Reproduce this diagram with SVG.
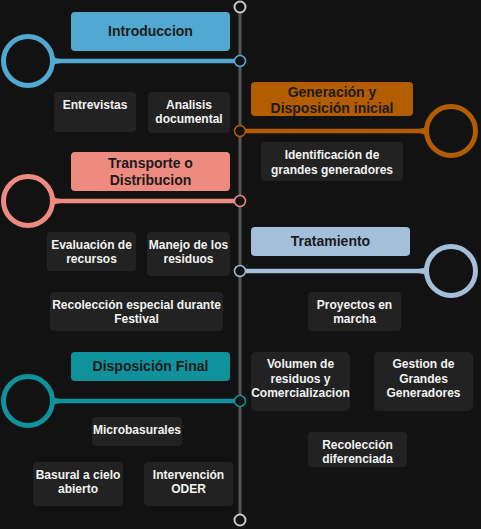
<svg xmlns="http://www.w3.org/2000/svg" width="481" height="529" viewBox="0 0 481 529">
  <style>
    .title { font-family: "Liberation Sans", Arial, sans-serif; font-size: 14px; font-weight: bold; fill: #1b1b1b; text-anchor: middle; }
    .item { font-family: "Liberation Sans", Arial, sans-serif; font-size: 12px; font-weight: bold; fill: #f2f2f2; text-anchor: middle; }
    .card { fill: #222222; }
    .ring { fill: none; stroke-width: 5; }
    .arm { fill: none; stroke-width: 4.5; }
    .dot { fill: #121212; stroke-width: 1.5; }
    .flare { stroke: none; }
  </style>
  <defs>
    <!-- small fillet where an arm meets its ring (drawn for a ring on the left, origin at ring centre) -->
    <path id="flare" d="M24.2,-6 Q26,-2.25 32,-2.25 L32,2.25 Q26,2.25 24.2,6 Z"/>
  </defs>
  <rect width="481" height="529" fill="#121212"/>

  <!-- timeline spine -->
  <g id="connectors">
    <line x1="240" y1="13" x2="240" y2="514" stroke="#565656" stroke-width="3"/>
    <circle cx="240" cy="7" r="5.5" fill="#121212" stroke="#c8c8c8" stroke-width="2"/>
    <circle cx="240" cy="520" r="5.5" fill="#121212" stroke="#c8c8c8" stroke-width="2"/>

    <!-- arms -->
    <g stroke="#51a8d0" fill="#51a8d0">
      <line class="arm" x1="52" y1="61" x2="240" y2="61"/>
      <use href="#flare" class="flare" transform="translate(28 61)"/>
      <circle class="ring" cx="28" cy="61" r="24.5"/>
      <circle class="dot" cx="240" cy="61" r="5.5"/>
    </g>
    <g stroke="#b35c00" fill="#b35c00">
      <line class="arm" x1="240" y1="131" x2="427" y2="131"/>
      <use href="#flare" class="flare" transform="translate(451 131) scale(-1 1)"/>
      <circle class="ring" cx="451" cy="131" r="24.5"/>
      <circle class="dot" cx="240" cy="131" r="5.5"/>
    </g>
    <g stroke="#ee8b80" fill="#ee8b80">
      <line class="arm" x1="52" y1="201" x2="240" y2="201"/>
      <use href="#flare" class="flare" transform="translate(28 201)"/>
      <circle class="ring" cx="28" cy="201" r="24.5"/>
      <circle class="dot" cx="240" cy="201" r="5.5"/>
    </g>
    <g stroke="#a3bfd9" fill="#a3bfd9">
      <line class="arm" x1="240" y1="271" x2="427" y2="271"/>
      <use href="#flare" class="flare" transform="translate(451 271) scale(-1 1)"/>
      <circle class="ring" cx="451" cy="271" r="24.5"/>
      <circle class="dot" cx="240" cy="271" r="5.5"/>
    </g>
    <g stroke="#10929c" fill="#10929c">
      <line class="arm" x1="52" y1="401" x2="240" y2="401"/>
      <use href="#flare" class="flare" transform="translate(28 401)"/>
      <circle class="ring" cx="28" cy="401" r="24.5"/>
      <circle class="dot" cx="240" cy="401" r="5.5"/>
    </g>
  </g>

  <!-- stage headers -->
  <g id="introduccion">
    <rect x="71" y="12" width="159" height="39" rx="4" fill="#51a8d0"/>
    <text class="title" x="150.5" y="36">Introduccion</text>
  </g>
  <g id="generacion">
    <rect x="251" y="82" width="162" height="34" rx="4" fill="#b35c00"/>
    <text class="title" x="332" y="97">Generación y</text>
    <text class="title" x="332" y="113">Disposición inicial</text>
  </g>
  <g id="transporte">
    <rect x="71" y="152" width="159" height="39" rx="4" fill="#ee8b80"/>
    <text class="title" x="150.5" y="168">Transporte o</text>
    <text class="title" x="150.5" y="185">Distribucion</text>
  </g>
  <g id="tratamiento">
    <rect x="251" y="227" width="159" height="29" rx="4" fill="#a3bfd9"/>
    <text class="title" x="330.5" y="246">Tratamiento</text>
  </g>
  <g id="disposicion-final">
    <rect x="71" y="352" width="159" height="29" rx="4" fill="#10929c"/>
    <text class="title" x="150.5" y="371">Disposición Final</text>
  </g>

  <!-- topic cards -->
  <g id="entrevistas">
    <rect class="card" x="54" y="92" width="82" height="40" rx="4"/>
    <text class="item" x="95" y="109">Entrevistas</text>
  </g>
  <g id="analisis">
    <rect class="card" x="148" y="92" width="82" height="41" rx="4"/>
    <text class="item" x="189" y="109">Analisis</text>
    <text class="item" x="189" y="123">documental</text>
  </g>
  <g id="identificacion">
    <rect class="card" x="261" y="142" width="142" height="39" rx="4"/>
    <text class="item" x="332" y="159">Identificación de</text>
    <text class="item" x="332" y="174">grandes generadores</text>
  </g>
  <g id="evaluacion">
    <rect class="card" x="47" y="232" width="89" height="39" rx="4"/>
    <text class="item" x="91.5" y="249">Evaluación de</text>
    <text class="item" x="91.5" y="263">recursos</text>
  </g>
  <g id="manejo">
    <rect class="card" x="147" y="232" width="83" height="44" rx="4"/>
    <text class="item" x="188.5" y="249">Manejo de los</text>
    <text class="item" x="188.5" y="263">residuos</text>
  </g>
  <g id="recoleccion-festival">
    <rect class="card" x="50" y="292" width="173" height="39" rx="4"/>
    <text class="item" x="136.5" y="309">Recolección especial durante</text>
    <text class="item" x="136.5" y="323">Festival</text>
  </g>
  <g id="proyectos">
    <rect class="card" x="308" y="292" width="93" height="39" rx="4"/>
    <text class="item" x="354.5" y="309">Proyectos en</text>
    <text class="item" x="354.5" y="323">marcha</text>
  </g>
  <g id="volumen">
    <rect class="card" x="251" y="352" width="99" height="59" rx="5"/>
    <text class="item" x="300.5" y="368">Volumen de</text>
    <text class="item" x="300.5" y="383">residuos y</text>
    <text class="item" x="300.5" y="397">Comercializacion</text>
  </g>
  <g id="gestion">
    <rect class="card" x="374" y="352" width="99" height="59" rx="5"/>
    <text class="item" x="423.5" y="368">Gestion de</text>
    <text class="item" x="423.5" y="383">Grandes</text>
    <text class="item" x="423.5" y="397">Generadores</text>
  </g>
  <g id="recoleccion-diferenciada">
    <rect class="card" x="308" y="432" width="99" height="35" rx="4"/>
    <text class="item" x="357.5" y="449">Recolección</text>
    <text class="item" x="357.5" y="463">diferenciada</text>
  </g>
  <g id="microbasurales">
    <rect class="card" x="92" y="417" width="90" height="29" rx="4"/>
    <text class="item" x="137" y="434">Microbasurales</text>
  </g>
  <g id="basural">
    <rect class="card" x="33" y="462" width="90" height="44" rx="4"/>
    <text class="item" x="78" y="479">Basural a cielo</text>
    <text class="item" x="78" y="493">abierto</text>
  </g>
  <g id="intervencion">
    <rect class="card" x="144" y="462" width="89" height="44" rx="4"/>
    <text class="item" x="188.5" y="479">Intervención</text>
    <text class="item" x="188.5" y="493">ODER</text>
  </g>
</svg>
